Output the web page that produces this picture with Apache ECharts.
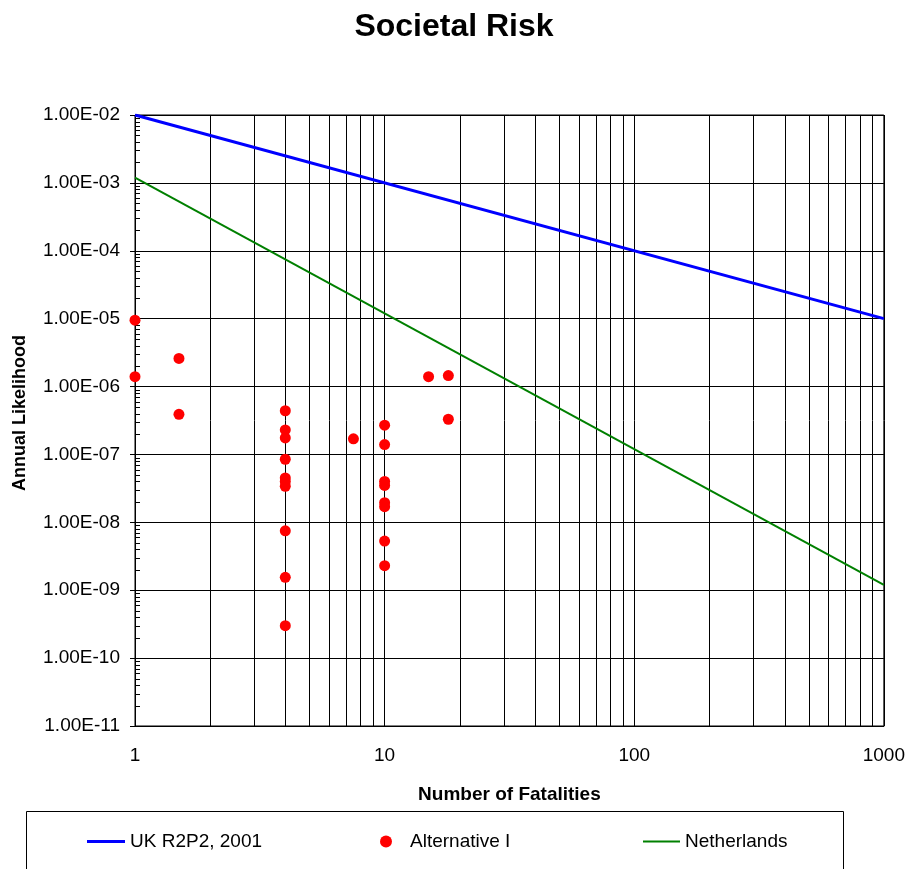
<!DOCTYPE html>
<html>
<head>
<meta charset="utf-8">
<title>Societal Risk</title>
<script src="https://cdn.jsdelivr.net/npm/echarts@6/dist/echarts.min.js"></script>
<style>
  html, body { margin: 0; padding: 0; background: #ffffff; }
  #chart { width: 908px; height: 869px; }
</style>
</head>
<body>
<div id="chart"></div>
<script>
// Criterion lines (end points on log-log axes)
const ukX = [1, 1000];
const ukY = [1e-2, 1e-5];
const nlX = [1, 1000];
const nlY = [1.2e-3, 1.2e-9];

// Alternative I: fatalities vs. annual likelihood
const altX = [1, 1, 1.5, 1.5,
  4, 4, 4, 4, 4, 4, 4, 4, 4, 4,
  7.5,
  10, 10, 10, 10, 10, 10, 10, 10,
  15, 18, 18];
const altY = [9.5e-6, 1.4e-6, 2.6e-6, 3.9e-7,
  4.4e-7, 2.3e-7, 1.75e-7, 8.5e-8, 4.5e-8, 4.0e-8, 3.4e-8, 7.5e-9, 1.55e-9, 3.0e-10,
  1.7e-7,
  2.7e-7, 1.4e-7, 4.0e-8, 3.5e-8, 1.95e-8, 1.7e-8, 5.3e-9, 2.3e-9,
  1.4e-6, 1.45e-6, 3.3e-7];

// Axis ranges
const xRange = [1, 1000];
const yRange = [1e-11, 1e-2];

// Intermediate log positions (2..9 in each decade)
const minorSteps = [2, 3, 4, 5, 6, 7, 8, 9];
const xDecades = [1, 10, 100];
const yDecades = [1e-11, 1e-10, 1e-9, 1e-8, 1e-7, 1e-6, 1e-5, 1e-4, 1e-3];

const xMinor = [];
xDecades.forEach(d => minorSteps.forEach(k => xMinor.push(k * d)));
const yMinor = [];
yDecades.forEach(d => minorSteps.forEach(k => yMinor.push(k * d)));

const FONT = '"Liberation Sans", Arial, sans-serif';

function sciLabel(v) {
  const e = Math.round(Math.log10(v));
  const m = v / Math.pow(10, e);
  return m.toFixed(2) + 'E' + (e < 0 ? '-' : '+') + String(Math.abs(e)).padStart(2, '0');
}

function plainLabel(v) {
  return String(Math.round(v));
}

const zip = (xs, ys) => xs.map((x, i) => [x, ys[i]]);

const chart = echarts.init(document.getElementById('chart'), null, { renderer: 'canvas' });

chart.setOption({
  animation: false,
  backgroundColor: '#ffffff',
  title: {
    text: 'Societal Risk',
    left: 'center',
    top: 6,
    textStyle: { fontFamily: FONT, fontSize: 32, fontWeight: 'bold', color: '#000' }
  },
  grid: {
    left: 135, right: 24, top: 115, bottom: 143,
    show: true, borderColor: '#000', borderWidth: 1, backgroundColor: 'transparent'
  },
  xAxis: {
    type: 'log',
    logBase: 10,
    min: xRange[0],
    max: xRange[1],
    name: 'Number of Fatalities',
    nameLocation: 'middle',
    nameGap: 59,
    nameTextStyle: { fontFamily: FONT, fontSize: 19, fontWeight: 'bold', color: '#000' },
    axisLine: { show: true, lineStyle: { color: '#000', width: 1 } },
    axisTick: { show: false },
    axisLabel: { fontFamily: FONT, fontSize: 19, color: '#000', margin: 20, formatter: plainLabel },
    splitLine: { show: true, lineStyle: { color: '#000', width: 1 } }
  },
  yAxis: {
    type: 'log',
    logBase: 10,
    min: yRange[0],
    max: yRange[1],
    name: 'Annual Likelihood',
    nameLocation: 'middle',
    nameGap: 106,
    nameTextStyle: { fontFamily: FONT, fontSize: 18, fontWeight: 'bold', color: '#000', padding: [0, 0, 0, 15] },
    axisLine: { show: true, lineStyle: { color: '#000', width: 1 } },
    axisTick: { show: true, inside: false, length: 5, lineStyle: { color: '#000' } },
    axisLabel: { fontFamily: FONT, fontSize: 19, color: '#000', margin: 15, formatter: sciLabel },
    splitLine: { show: true, lineStyle: { color: '#000', width: 1 } }
  },
  legend: [
    {
      data: ['UK R2P2, 2001'],
      left: 87, top: 832, padding: 0,
      icon: 'rect', itemWidth: 38, itemHeight: 3,
      textStyle: { fontFamily: FONT, fontSize: 19, color: '#000' }
    },
    {
      data: ['Alternative I'],
      left: 380, top: 832, padding: 0,
      icon: 'circle', itemWidth: 38, itemHeight: 12,
      textStyle: { fontFamily: FONT, fontSize: 19, color: '#000' }
    },
    {
      data: ['Netherlands'],
      left: 643, top: 832, padding: 0,
      icon: 'rect', itemWidth: 37, itemHeight: 2,
      textStyle: { fontFamily: FONT, fontSize: 19, color: '#000' }
    }
  ],
  graphic: [
    {
      type: 'rect',
      shape: { x: 26.5, y: 811.5, width: 817, height: 80 },
      style: { fill: 'none', stroke: '#000', lineWidth: 1 },
      silent: true
    }
  ],
  series: [
    {
      // vertical grid lines at 2..9 of each decade
      type: 'custom',
      silent: true,
      z: 1,
      data: xMinor.map(v => [v, yRange[0]]),
      renderItem: function (params, api) {
        const v = api.value(0);
        const p0 = api.coord([v, yRange[0]]);
        const p1 = api.coord([v, yRange[1]]);
        const x = Math.round(p0[0]) + 0.5;
        return {
          type: 'line',
          shape: { x1: x, y1: p0[1], x2: x, y2: p1[1] },
          style: { stroke: '#000', lineWidth: 1 }
        };
      }
    },
    {
      // minor ticks on the likelihood axis, drawn inside the plot
      type: 'custom',
      silent: true,
      z: 3,
      clip: false,
      data: yMinor.map(v => [xRange[0], v]),
      renderItem: function (params, api) {
        const p = api.coord([xRange[0], api.value(1)]);
        const y = Math.round(p[1]) + 0.5;
        return {
          type: 'line',
          shape: { x1: p[0], y1: y, x2: p[0] + 5, y2: y },
          style: { stroke: '#000', lineWidth: 1 }
        };
      }
    },
    {
      name: 'UK R2P2, 2001',
      type: 'line',
      data: zip(ukX, ukY),
      symbol: 'none',
      z: 4,
      itemStyle: { color: '#0000ff' },
      lineStyle: { color: '#0000ff', width: 3 }
    },
    {
      name: 'Alternative I',
      type: 'scatter',
      data: zip(altX, altY),
      symbol: 'circle',
      symbolSize: 11,
      clip: false,
      z: 5,
      itemStyle: { color: '#ff0000', opacity: 1 }
    },
    {
      name: 'Netherlands',
      type: 'line',
      data: zip(nlX, nlY),
      symbol: 'none',
      z: 4,
      itemStyle: { color: '#008000' },
      lineStyle: { color: '#008000', width: 2 }
    }
  ]
});
</script>
</body>
</html>
